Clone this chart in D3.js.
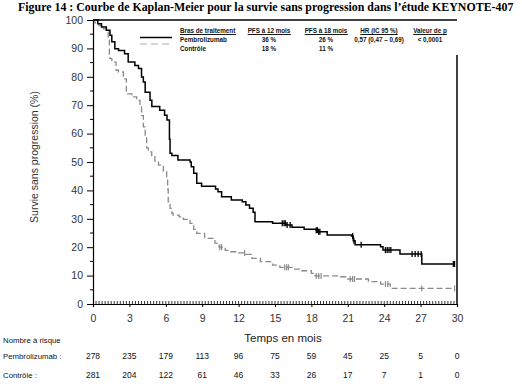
<!DOCTYPE html>
<html>
<head>
<meta charset="utf-8">
<script src="https://cdn.jsdelivr.net/npm/d3@7"></script>
<style>
  body { margin:0; background:#fff; }
  svg { display:block; }
</style>
</head>
<body>
<div id="chart"></div>
<script>
// tick labels
const monthTicks = d3.range(0, 31, 3)
const survTicks = d3.range(0, 101, 10)

// Pembrolizumab KM steps (months, %)
const pembroTime = [0,0.4,0.7,1.1,1.4,1.55,1.8,2.1,2.6,2.9,3.45,3.75,4.0,4.15,4.3,4.7,4.85,5.5,5.9,6.1,6.3,6.35,6.5,7.0,8.0,8.1,8.3,8.55,8.95,10.1,10.3,10.6,11.4,12.3,12.6,12.9,13.2,13.35,14.8,15.9,16.4,17.4,18.4,18.6,19.3,21.3,21.45,21.6,23.7,23.9,25.3,27.1,29.8]
const pembroSurv = [100,98.7,97.5,96.4,94.6,92.3,89.9,89.3,88.1,85.2,84.0,82.9,79.9,78.2,74.6,71.7,69.5,68.2,66.5,64.8,58,53.1,52.3,50.7,50.0,48.3,46.0,42.5,41.5,40.5,39.5,37.8,36.6,36.0,34.9,33.7,32.3,29.0,28.4,27.8,27.0,26.3,26.0,25.4,24.3,23.9,22.3,20.9,20.2,19.0,17.6,14.1,14.1]
const pembroCensor = [15.6,15.75,15.85,16.0,16.25,18.4,18.5,18.6,18.7,21.4,21.5,22.1,24.1,24.25,24.4,24.55,26.3,26.55,26.8,27.05,29.7,29.8]

// Contrôle KM steps (months, %)
const ctrlTime = [0,0.15,0.5,0.85,1.1,1.25,1.35,1.4,1.55,1.9,2.1,2.5,2.75,3.2,3.6,3.87,4.0,4.15,4.3,4.42,4.56,4.84,5.1,5.4,5.8,6.07,6.15,6.2,6.35,6.5,6.6,7.1,7.45,8.0,8.3,8.55,9.2,10.05,10.4,10.9,11.3,12.0,12.6,13.1,13.8,14.8,15.4,16.4,17.2,18.0,18.3,20.4,21.0,22.7,23.7,24.5,29.8]
const ctrlSurv = [100,99,98,96.9,95.8,93.4,88,86.4,85.2,82.3,81.7,79.3,74.0,72.9,71.7,69.4,66.3,62.4,58.9,55,53.6,51.9,50.3,48.9,46.6,44.8,40.5,36,33.7,31.9,31.3,30.7,29.8,28.4,26.3,24.9,23.1,21.4,20.0,18.9,18.4,18.0,17.5,16.1,14.9,13.7,12.9,12.3,11.7,10.8,9.9,9.6,8.8,7.9,7.0,5.5,5.5]
const ctrlCensor = [10.45,10.6,12.5,15.8,15.95,16.1,18.4,18.6,18.8,21.2,21.4,21.55,24.1,24.3,27.1,29.8]

// Nombre à risque
const pembroRisk = [278,235,179,113,96,75,59,45,25,5,0]
const ctrlRisk = [281,204,122,61,46,33,26,17,7,1,0]

// legend table
const legendHead = ["Bras de traitement","PFS à 12 mois","PFS à 18 mois","HR (IC 95 %)","Valeur de p"]
const legendPembro = ["Pembrolizumab","36 %","26 %","0,57 (0,47 – 0,69)","< 0,0001"]
const legendCtrl = ["Contrôle","18 %","11 %","",""]

const W = 522, H = 388
const svg = d3.select("#chart").append("svg")
  .attr("width", W).attr("height", H)
  .style("font-family", "'Liberation Sans', Arial, sans-serif")

const x = d3.scaleLinear().domain([0,30]).range([93,457])
const y = d3.scaleLinear().domain([0,100]).range([304,20])

// title
svg.append("text")
  .attr("x", 18).attr("y", 11)
  .style("font-family", "'Liberation Serif', 'Times New Roman', serif")
  .style("font-weight", "bold")
  .style("font-size", "11.9px")
  .text("Figure 14 : Courbe de Kaplan-Meier pour la survie sans progression dans l\u2019étude KEYNOTE-407")

// frame: top line + right line
svg.append("line").attr("x1", x(0)).attr("x2", x(30)).attr("y1", y(100)).attr("y2", y(100))
  .attr("stroke","#000").attr("stroke-width",1.5)
svg.append("line").attr("x1", x(30)).attr("x2", x(30)).attr("y1", 55).attr("y2", y(0))
  .attr("stroke","#000").attr("stroke-width",1.5)

// y axis
const yAx = svg.append("g").attr("transform","translate(" + x(0) + ",0)")
yAx.call(d3.axisLeft(y).tickValues(survTicks).tickSize(6).tickPadding(4))
yAx.select(".domain").attr("stroke-width",1.2)
yAx.selectAll("text").style("font-size","10.5px").attr("fill","#333")
yAx.selectAll(null).data(d3.range(5,100,10)).enter().append("line")
  .attr("x1",-3).attr("x2",0).attr("y1",d=>y(d)).attr("y2",d=>y(d)).attr("stroke","#000")
yAx.append("text")
  .attr("transform","rotate(-90)")
  .attr("x", -157).attr("y", -55)
  .attr("text-anchor","middle").attr("fill","#333")
  .style("font-size","10.5px")
  .text("Survie sans progression (%)")

// x axis
const xAx = svg.append("g").attr("transform","translate(0," + y(0) + ")")
xAx.call(d3.axisBottom(x).tickValues(monthTicks).tickSize(3).tickPadding(8))
xAx.select(".domain").attr("stroke-width",1.2)
xAx.selectAll("text").style("font-size","10.5px").attr("fill","#333")
xAx.selectAll(null).data(d3.range(0.25,30,0.25)).enter().append("line")
  .attr("x1",d=>x(d)).attr("x2",d=>x(d)).attr("y1",-3).attr("y2",0).attr("stroke","#000").attr("stroke-width",0.8)
svg.append("text")
  .attr("x", 283).attr("y", 342)
  .attr("text-anchor","middle").attr("fill","#222")
  .style("font-size","11.5px")
  .text("Temps en mois")

// curves
const stepLine = d3.line().x(d=>x(d[0])).y(d=>y(d[1])).curve(d3.curveStepAfter)
const survAt = (times, surv, t) => surv[d3.bisectRight(times, t) - 1]

svg.append("path")
  .datum(d3.zip(ctrlTime, ctrlSurv))
  .attr("d", stepLine)
  .attr("fill","none").attr("stroke","#8a8a8a").attr("stroke-width",1.3)
  .attr("stroke-dasharray","6,3")
svg.selectAll(null).data(ctrlCensor).enter().append("line")
  .attr("x1",d=>x(d)).attr("x2",d=>x(d))
  .attr("y1",d=>y(survAt(ctrlTime,ctrlSurv,d))-3).attr("y2",d=>y(survAt(ctrlTime,ctrlSurv,d))+3)
  .attr("stroke","#8a8a8a").attr("stroke-width",1.2)

svg.append("path")
  .datum(d3.zip(pembroTime, pembroSurv))
  .attr("d", stepLine)
  .attr("fill","none").attr("stroke","#000").attr("stroke-width",1.5)
svg.selectAll(null).data(pembroCensor).enter().append("line")
  .attr("x1",d=>x(d)).attr("x2",d=>x(d))
  .attr("y1",d=>y(survAt(pembroTime,pembroSurv,d))-3).attr("y2",d=>y(survAt(pembroTime,pembroSurv,d))+3)
  .attr("stroke","#000").attr("stroke-width",1.3)

// legend table
const legCols = [180, 269, 326, 379, 430]
const legAnchor = ["start","middle","middle","middle","middle"]
const leg = svg.append("g").style("font-size","6.3px").style("font-weight","bold").attr("fill","#111")
legendHead.forEach((t,i) => {
  const tx = leg.append("text").attr("x",legCols[i]).attr("y",32.5).attr("text-anchor",legAnchor[i]).text(t)
  const bb = tx.node().getBBox()
  leg.append("line").attr("x1",bb.x).attr("x2",bb.x+bb.width).attr("y1",34.5).attr("y2",34.5)
    .attr("stroke","#000").attr("stroke-width",0.9)
})
legendPembro.forEach((t,i) => leg.append("text").attr("x",legCols[i]).attr("y",41.5).attr("text-anchor",legAnchor[i]).text(t))
legendCtrl.forEach((t,i) => leg.append("text").attr("x",legCols[i]).attr("y",50.5).attr("text-anchor",legAnchor[i]).text(t))
svg.append("line").attr("x1",140).attr("x2",172).attr("y1",37.5).attr("y2",37.5)
  .attr("stroke","#000").attr("stroke-width",1.5)
svg.append("line").attr("x1",140).attr("x2",172).attr("y1",44).attr("y2",44)
  .attr("stroke","#aaa").attr("stroke-width",1).attr("stroke-dasharray","7,4")

// number at risk
const risk = svg.append("g").style("font-size","8.5px").attr("fill","#111")
risk.append("text").attr("x",3).attr("y",343).style("font-size","7.8px").text("Nombre à risque")
risk.append("text").attr("x",3).attr("y",359).style("font-size","7.8px").text("Pembrolizumab :")
risk.append("text").attr("x",3).attr("y",378).style("font-size","7.8px").text("Contrôle :")
risk.selectAll(null).data(pembroRisk).enter().append("text")
  .attr("x",(d,i)=>x(monthTicks[i])).attr("y",359).attr("text-anchor","middle").text(d=>d)
risk.selectAll(null).data(ctrlRisk).enter().append("text")
  .attr("x",(d,i)=>x(monthTicks[i])).attr("y",378).attr("text-anchor","middle").text(d=>d)
</script>
</body>
</html>
